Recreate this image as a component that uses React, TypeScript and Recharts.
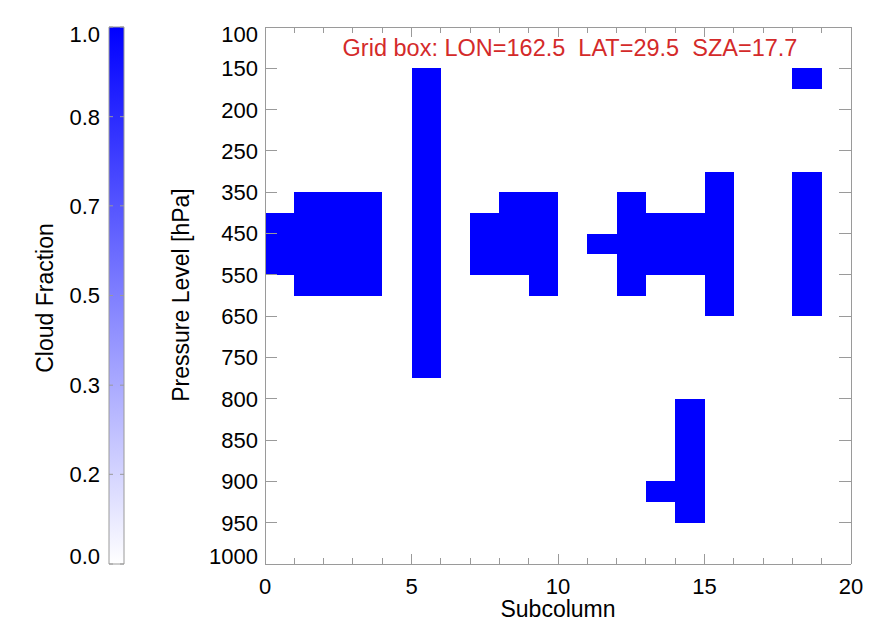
import React from 'react';
import { ComposedChart, XAxis, YAxis, ReferenceArea, Scatter } from 'recharts';

// ---- data ----
const pressureLevels = [100, 150, 200, 250, 350, 450, 550, 650, 750, 800, 850, 900, 950, 1000];
const subcolumnTicks = [0, 1, 2, 3, 4, 5, 6, 7, 8, 9, 10, 11, 12, 13, 14, 15, 16, 17, 18, 19, 20];
// cloudy segments: subcolumn index, top / base in level-index units (0 = 100 hPa)
const cloudSubcolumn = [0, 1, 2, 3, 5, 7, 8, 9, 11, 12, 13, 13, 14, 14, 15, 18, 18];
const cloudTopLevel = [4.5, 4, 4, 4, 1, 4.5, 4, 4, 5, 4, 4.5, 11, 4.5, 9, 3.5, 1, 3.5];
const cloudBaseLevel = [6, 6.5, 6.5, 6.5, 8.5, 6, 6, 6.5, 5.5, 6.5, 6, 11.5, 6, 12, 7, 1.5, 7];
const cloudFraction = [1, 1, 1, 1, 1, 1, 1, 1, 1, 1, 1, 1, 1, 1, 1, 1, 1];
const colorbarTicks = [0, 0.167, 0.333, 0.5, 0.667, 0.833, 1.0];
const titleText = 'Grid box: LON=162.5  LAT=29.5  SZA=17.7';

const levelIndex = pressureLevels.map((_, i) => i);
const cells = cloudSubcolumn.map((s, i) => ({
  x1: s,
  x2: s + 1,
  top: cloudTopLevel[i],
  base: cloudBaseLevel[i],
  cf: cloudFraction[i],
}));
const cellAnchors = cells.map((c) => ({ x: c.x1, y: c.top }));
const cbAnchors = [
  { x: 0, y: colorbarTicks[0] },
  { x: 1, y: colorbarTicks[colorbarTicks.length - 1] },
];

const FONT = '"Liberation Sans", Arial, Helvetica, sans-serif';
const AXIS = '#9a9a9a';
const FS = 22;
const FT = 23;

const cfColor = (f: number) => {
  const c = Math.round(255 * (1 - f));
  return `rgb(${c},${c},255)`;
};

const NoShape = () => <g />;

const BottomTick = (props: any) => {
  const { x, y, payload } = props;
  const v = payload.value;
  const major = v % 5 === 0;
  return (
    <g>
      <line x1={x} x2={x} y1={y} y2={y - (major ? 10 : 6)} stroke={AXIS} strokeWidth={1} />
      {major && (
        <text x={x} y={y + 30} textAnchor="middle" fontSize={FS} fontFamily={FONT} fill="#000">
          {v}
        </text>
      )}
    </g>
  );
};

const TopTick = (props: any) => {
  const { x, y, payload } = props;
  const major = payload.value % 5 === 0;
  return <line x1={x} x2={x} y1={y} y2={y + (major ? 10 : 6)} stroke={AXIS} strokeWidth={1} />;
};

const LeftTick = (props: any) => {
  const { x, y, payload } = props;
  const i = payload.value;
  const last = pressureLevels.length - 1;
  const shift = i === 0 ? 7.5 : i === last ? -7.5 : 0;
  return (
    <g>
      <line x1={x} x2={x + 12} y1={y} y2={y} stroke={AXIS} strokeWidth={1} />
      <text x={x - 7} y={y + shift} dy="0.36em" textAnchor="end" fontSize={FS} fontFamily={FONT} fill="#000">
        {pressureLevels[i]}
      </text>
    </g>
  );
};

const RightTick = (props: any) => {
  const { x, y } = props;
  return <line x1={x} x2={x - 12} y1={y} y2={y} stroke={AXIS} strokeWidth={1} />;
};

const CbLeftTick = (props: any) => {
  const { x, y, payload } = props;
  const v = payload.value;
  const shift = v === colorbarTicks[0] ? -7.5 : v === colorbarTicks[colorbarTicks.length - 1] ? 7.5 : 0;
  return (
    <g>
      <line x1={x} x2={x + 4} y1={y} y2={y} stroke={AXIS} strokeWidth={1} />
      <text x={x - 9} y={y + shift} dy="0.36em" textAnchor="end" fontSize={FS} fontFamily={FONT} fill="#000">
        {v.toFixed(1)}
      </text>
    </g>
  );
};

const CbRightTick = (props: any) => {
  const { x, y } = props;
  return <line x1={x} x2={x - 4} y1={y} y2={y} stroke={AXIS} strokeWidth={1} />;
};

export default function App() {
  return (
    <div
      style={{
        position: 'absolute',
        left: 0,
        top: 0,
        width: 876,
        height: 620,
        background: '#fff',
        fontFamily: FONT,
      }}
    >
      {/* colorbar */}
      <div style={{ position: 'absolute', left: 0, top: 0 }}>
        <ComposedChart width={160} height={620} margin={{ top: 27, right: 35, bottom: 56, left: 49 }}>
          <defs>
            <linearGradient id="cbGrad" x1="0" y1="1" x2="0" y2="0">
              <stop offset="0%" stopColor={cfColor(0)} />
              <stop offset="100%" stopColor={cfColor(1)} />
            </linearGradient>
          </defs>
          <XAxis xAxisId="cbx" dataKey="x" type="number" domain={[0, 1]} allowDataOverflow hide />
          <YAxis
            yAxisId="cbl"
            dataKey="y"
            type="number"
            domain={[0, 1]}
            allowDataOverflow
            ticks={colorbarTicks}
            interval={0}
            width={60}
            tickSize={0}
            tickMargin={0}
            tickLine={false}
            axisLine={false}
            tick={CbLeftTick}
          />
          <YAxis
            yAxisId="cbr"
            dataKey="y"
            orientation="right"
            type="number"
            domain={[0, 1]}
            allowDataOverflow
            ticks={colorbarTicks}
            interval={0}
            width={1}
            tickSize={0}
            tickMargin={0}
            tickLine={false}
            axisLine={false}
            tick={CbRightTick}
          />
          <Scatter xAxisId="cbx" yAxisId="cbl" data={cbAnchors} dataKey="y" shape={NoShape} isAnimationActive={false} />
          <Scatter xAxisId="cbx" yAxisId="cbr" data={cbAnchors} dataKey="y" shape={NoShape} isAnimationActive={false} />
          <ReferenceArea
            xAxisId="cbx"
            yAxisId="cbl"
            x1={0}
            x2={1}
            y1={colorbarTicks[0]}
            y2={colorbarTicks[colorbarTicks.length - 1]}
            fill="url(#cbGrad)"
            fillOpacity={1}
            stroke={AXIS}
            strokeWidth={1}
          />
        </ComposedChart>
      </div>

      {/* main plot */}
      <div style={{ position: 'absolute', left: 0, top: 0, shapeRendering: 'crispEdges' } as any}>
        <ComposedChart width={876} height={620} margin={{ top: 26, right: 24, bottom: 16, left: 205 }}>
          <XAxis
            xAxisId="bottom"
            dataKey="x"
            orientation="bottom"
            type="number"
            domain={[0, 20]}
            allowDataOverflow
            ticks={subcolumnTicks}
            interval={0}
            height={40}
            tickSize={0}
            tickMargin={0}
            tickLine={false}
            axisLine={{ stroke: AXIS }}
            tick={BottomTick}
          />
          <XAxis
            xAxisId="top"
            dataKey="x"
            orientation="top"
            type="number"
            domain={[0, 20]}
            allowDataOverflow
            ticks={subcolumnTicks}
            interval={0}
            height={1}
            tickSize={0}
            tickMargin={0}
            tickLine={false}
            axisLine={{ stroke: AXIS }}
            tick={TopTick}
          />
          <YAxis
            yAxisId="left"
            dataKey="y"
            type="number"
            domain={[0, pressureLevels.length - 1]}
            allowDataOverflow
            reversed
            ticks={levelIndex}
            interval={0}
            width={60}
            tickSize={0}
            tickMargin={0}
            tickLine={false}
            axisLine={{ stroke: AXIS }}
            tick={LeftTick}
          />
          <YAxis
            yAxisId="right"
            dataKey="y"
            orientation="right"
            type="number"
            domain={[0, pressureLevels.length - 1]}
            allowDataOverflow
            reversed
            ticks={levelIndex}
            interval={0}
            width={1}
            tickSize={0}
            tickMargin={0}
            tickLine={false}
            axisLine={{ stroke: AXIS }}
            tick={RightTick}
          />
          <Scatter xAxisId="bottom" yAxisId="left" data={cellAnchors} dataKey="y" shape={NoShape} isAnimationActive={false} />
          <Scatter xAxisId="top" yAxisId="right" data={cellAnchors} dataKey="y" shape={NoShape} isAnimationActive={false} />
          {cells.map((c, i) => (
            <ReferenceArea
              key={i}
              xAxisId="bottom"
              yAxisId="left"
              x1={c.x1}
              x2={c.x2}
              y1={c.top}
              y2={c.base}
              fill={cfColor(c.cf)}
              fillOpacity={1}
              stroke="none"
            />
          ))}
        </ComposedChart>
      </div>

      {/* titles */}
      <svg width={876} height={620} style={{ position: 'absolute', left: 0, top: 0, pointerEvents: 'none' }}>
        <text x={570} y={56} textAnchor="middle" fontSize={23.5} fontFamily={FONT} fill="#d42a2a" style={{ whiteSpace: 'pre' }}>
          {titleText}
        </text>
        <text x={558} y={617} textAnchor="middle" fontSize={FT} fontFamily={FONT} fill="#000">
          Subcolumn
        </text>
        <text transform="translate(189,295) rotate(-90)" textAnchor="middle" fontSize={FT} fontFamily={FONT} fill="#000">
          Pressure Level [hPa]
        </text>
        <text transform="translate(53,298) rotate(-90)" textAnchor="middle" fontSize={FT} fontFamily={FONT} fill="#000">
          Cloud Fraction
        </text>
      </svg>
    </div>
  );
}
